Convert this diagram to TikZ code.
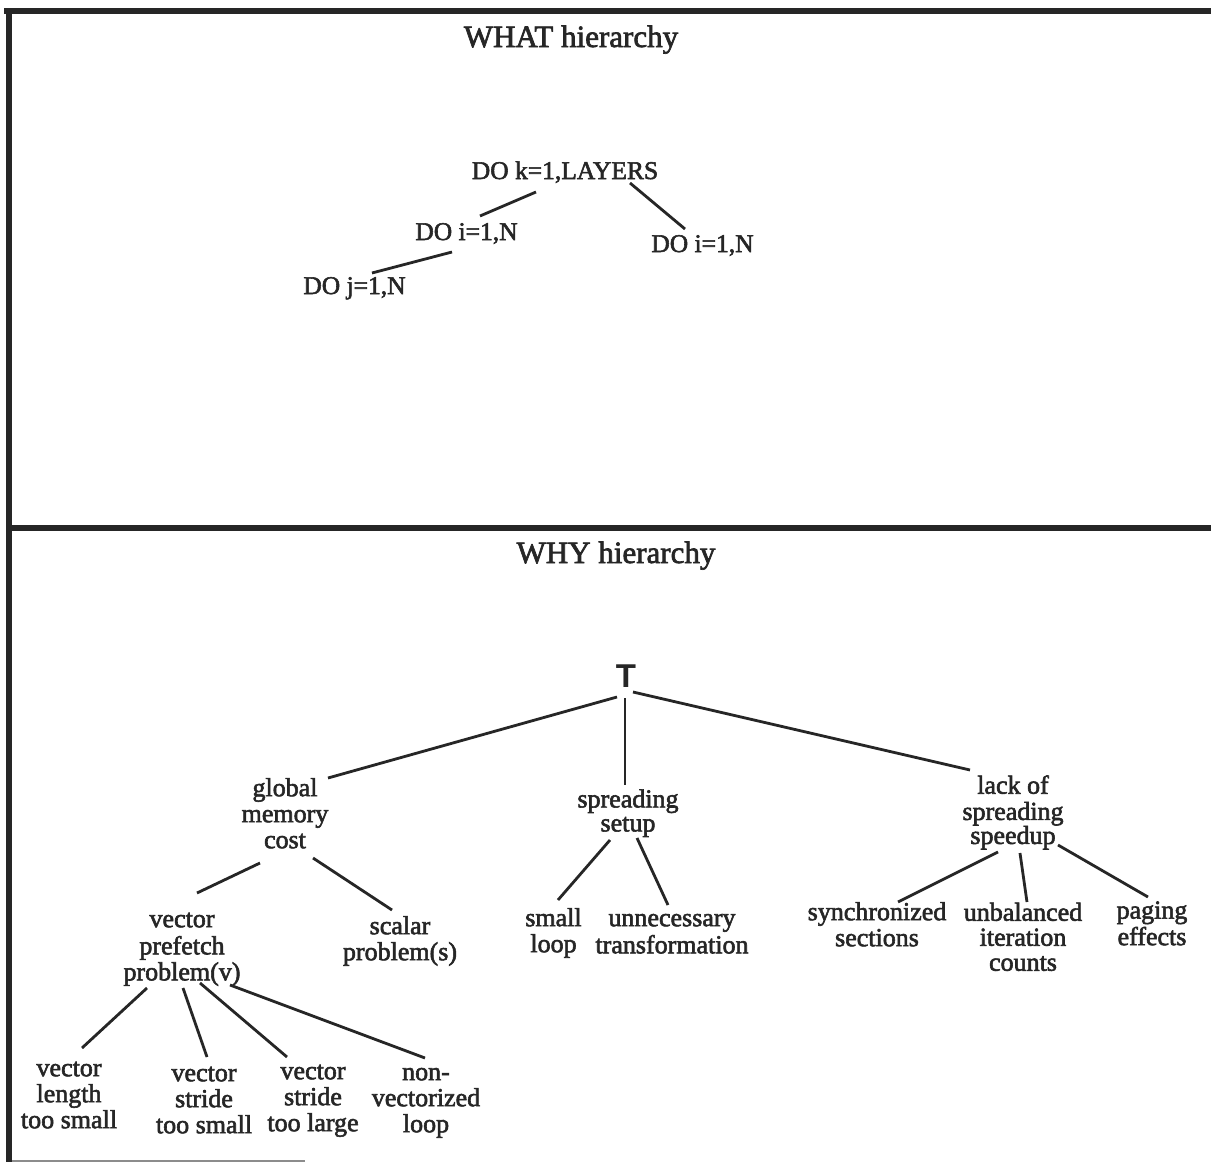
\documentclass[tikz,border=0pt]{standalone}
\usepackage{fontspec}
\setmainfont{Liberation Serif}
\newfontfamily\inkserif{Liberation Serif}[FakeBold=2.2]
\newfontfamily\rootfont{Liberation Sans}
\usetikzlibrary{calc}

% label fonts: size 26 with a chosen line spacing
\newcommand\lblfont[1]{\inkserif\fontsize{26}{#1}\selectfont}
\colorlet{ink}{black!85}

\begin{document}
\begin{tikzpicture}[x=1pt,y=-1pt,
  frame/.style={draw=ink,line width=6pt},
  edge/.style={draw=ink,line width=2.8pt},
  title/.style={anchor=base,inner sep=0pt,text=ink,font=\inkserif\fontsize{31}{31}\selectfont},
  loopnode/.style={anchor=base,inner sep=0pt,text=ink,font=\inkserif\fontsize{25.5}{25.5}\selectfont},
  lbl/.style={anchor=north,inner sep=0pt,align=center,text=ink,font=\lblfont{26}},
  rootnode/.style={anchor=base,inner sep=0pt,text=ink,font=\rootfont\bfseries\fontsize{33}{33}\selectfont}]

\useasboundingbox (0,0) rectangle (1211,1162);
\fill[white] (0,0) rectangle (1211,1162);

% panel frame
\draw[frame] (4,10.5) -- (1211,10.5);
\draw[frame] (9,8) -- (9,1162);
\draw[frame] (9,528) -- (1211,528);
\draw[black!45,line width=1.5pt] (12,1161) -- (305,1161);

% ---------- WHAT hierarchy ----------
\node[title] (what) at (571,47) {WHAT hierarchy};

\node[loopnode] (k)  at (565,179)   {DO k=1,LAYERS};
\node[loopnode] (iL) at (466.5,240) {DO i=1,N};
\node[loopnode] (iR) at (702.5,252) {DO i=1,N};
\node[loopnode] (j)  at (354.5,294) {DO j=1,N};

\draw[edge] ([shift={(-29,13)}]k.base) -- ([shift={(13.5,-24)}]iL.base);
\draw[edge] ([shift={(65,4)}]k.base) -- ([shift={(-17.5,-23)}]iR.base);
\draw[edge] ([shift={(-14.5,12)}]iL.base) -- ([shift={(17.5,-21)}]j.base);

% ---------- WHY hierarchy ----------
\node[title] (why) at (616,563) {WHY hierarchy};

\node[rootnode] (T) at (626,687) {T};

\node[lbl] (glob)   at (285,777.8)   {\strut global\\memory\\cost};
\node[lbl,font=\lblfont{24}] (spread) at (628,789.2) {\strut spreading\\setup};
\node[lbl,font=\lblfont{24}] (lack)   at (1013,775.2) {\strut lack of\\spreading\\speedup};

\node[lbl] (vpp)    at (182,908.8)  {\strut vector\\prefetch\\problem(v)};
\node[lbl] (scalar) at (400,915.8)  {\strut scalar\\problem(s)};

\node[lbl] (vls) at (69,1057.8)  {\strut vector\\length\\too small};
\node[lbl] (vss) at (204,1062.8) {\strut vector\\stride\\too small};
\node[lbl] (vsl) at (313,1060.8) {\strut vector\\stride\\too large};
\node[lbl] (nvl) at (426,1061.8) {\strut non-\\vectorized\\loop};

\node[lbl] (small)  at (553.5,907.8) {\strut small\\loop};
\node[lbl] (unnec)  at (672,907.8)   {\strut unnecessary\\transformation};

\node[lbl] (sync)   at (877,901.8)   {\strut synchronized\\sections};
\node[lbl,font=\lblfont{25}] (unbal)  at (1023,902.5) {\strut unbalanced\\iteration\\counts};
\node[lbl,font=\lblfont{24}] (paging) at (1152,901.2) {\strut paging\\effects};

% connectors from the root
\draw[edge] ([shift={(-9,10)}]T.base) -- ([shift={(43,0.2)}]glob.north);
\draw[edge] ([shift={(-1,11)}]T.base) -- ([shift={(-3,-4.2)}]spread.north);
\draw[edge] ([shift={(7,5)}]T.base) -- ([shift={(-43,-5.2)}]lack.north);

% global memory cost
\draw[edge] ([shift={(-25,85.2)}]glob.north) -- ([shift={(15,-15.8)}]vpp.north);
\draw[edge] ([shift={(28,80.2)}]glob.north) -- ([shift={(-8,-5.8)}]scalar.north);

% vector prefetch problem
\draw[edge] ([shift={(-35,79.2)}]vpp.north) -- ([shift={(13,-9.8)}]vls.north);
\draw[edge] ([shift={(1,79.2)}]vpp.north) -- ([shift={(3,-5.8)}]vss.north);
\draw[edge] ([shift={(18,74.2)}]vpp.north) -- ([shift={(-26,-3.8)}]vsl.north);
\draw[edge] ([shift={(48,76.2)}]vpp.north) -- ([shift={(-1,-3.8)}]nvl.north);

% spreading setup
\draw[edge] ([shift={(-18,50.8)}]spread.north) -- ([shift={(4.5,-7.8)}]small.north);
\draw[edge] ([shift={(9,48.8)}]spread.north) -- ([shift={(-4,-2.8)}]unnec.north);

% lack of spreading speedup
\draw[edge] ([shift={(-15,76.8)}]lack.north) -- ([shift={(21,0.2)}]sync.north);
\draw[edge] ([shift={(7,77.8)}]lack.north) -- ([shift={(4,-0.5)}]unbal.north);
\draw[edge] ([shift={(45,69.8)}]lack.north) -- ([shift={(-4,-4.2)}]paging.north);

\end{tikzpicture}
\end{document}
